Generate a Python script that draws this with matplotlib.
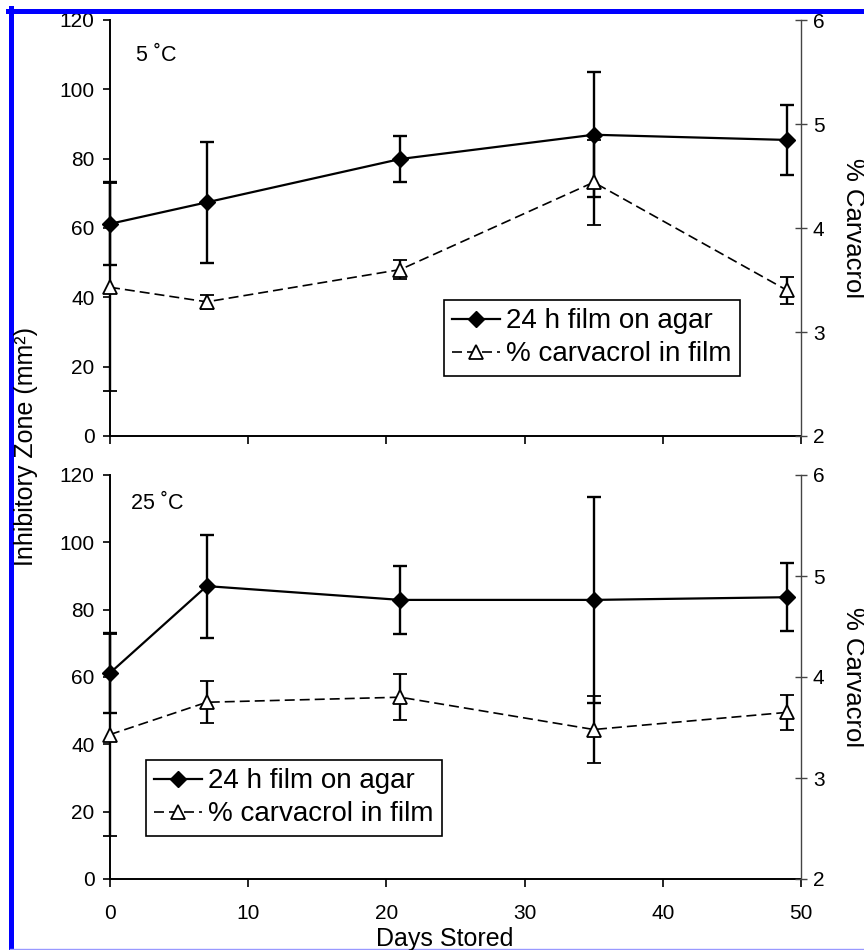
import matplotlib
matplotlib.use("Agg")
import matplotlib.pyplot as plt
from matplotlib.lines import Line2D

plt.rcParams['font.family'] = ['Liberation Sans', 'DejaVu Sans']

# storage days
days = [0, 7, 21, 35, 49]

# 5 C panel
zone_5 = [61.2, 67.4, 79.9, 86.9, 85.4]
zone_5_err = [12.0, 17.5, 6.6, 18.1, 10.1]
carv_5 = [3.43, 3.29, 3.60, 4.44, 3.40]
carv_5_err = [1.0, 0.07, 0.09, 0.41, 0.13]

# 25 C panel
zone_25 = [61.2, 87.0, 82.9, 82.9, 83.7]
zone_25_err = [12.0, 15.3, 10.1, 30.6, 10.1]
carv_25 = [3.43, 3.75, 3.80, 3.48, 3.65]
carv_25_err = [1.0, 0.21, 0.23, 0.33, 0.17]

x_ticks = [0, 10, 20, 30, 40, 50]
zone_ticks = [0, 20, 40, 60, 80, 100, 120]
carv_ticks = [2, 3, 4, 5, 6]

W, H = 864, 950
fig = plt.figure(figsize=(W / 100, H / 100), dpi=100)

def fx(px):
    return px / W

def fy(py):
    return 1 - py / H


def draw_panel(rect, zone, zone_err, carv, carv_err, label, label_pos, leg_anchor, show_xlabels):
    ax = fig.add_axes(rect)
    ax2 = ax.twinx()

    eb1 = ax.errorbar(days, zone, yerr=zone_err, color='black', marker='D', ms=8.5,
                      lw=1.6, elinewidth=1.7, capsize=5, capthick=1.7, zorder=3)
    eb2 = ax2.errorbar(days, carv, yerr=carv_err, color='black', marker='^', ms=9.5,
                       mfc='white', mec='black', mew=1.3, lw=1.2, ls=(0, (6, 3)),
                       elinewidth=1.7, capsize=5, capthick=1.7, zorder=3)
    for eb in (eb1, eb2):
        for child in eb.get_children():
            child.set_clip_on(False)

    ax.set_xlim(0, 50)
    ax.set_ylim(0, 120)
    ax2.set_ylim(2, 6)
    ax.set_xticks(x_ticks)
    ax.set_yticks(zone_ticks)
    ax2.set_yticks(carv_ticks)
    if not show_xlabels:
        ax.set_xticklabels([])

    for a in (ax, ax2):
        a.spines['top'].set_visible(False)
        a.patch.set_visible(False)
    ax.spines['right'].set_visible(False)
    ax2.spines['left'].set_visible(False)
    ax2.spines['bottom'].set_visible(False)
    ax.spines['left'].set_linewidth(1.4)
    ax.spines['bottom'].set_linewidth(1.4)
    ax2.spines['right'].set_color('#444444')
    ax2.spines['right'].set_linewidth(1.0)

    ax.tick_params(axis='y', direction='out', length=5, width=1.2, labelsize=15, pad=6)
    ax.tick_params(axis='x', direction='out', length=6, width=1.2, labelsize=15, pad=12)
    ax2.tick_params(axis='y', direction='inout', length=9, width=1.0, color='#444444',
                    labelsize=15, pad=4)

    ax.text(label_pos[0], label_pos[1], label, transform=ax.transAxes,
            fontsize=15.5, ha='left', va='center')

    leg = fig.legend([eb1[0], eb2[0]], ['24 h film on agar', '% carvacrol in film'],
                     loc='upper left', bbox_to_anchor=leg_anchor, bbox_transform=fig.transFigure,
                     borderaxespad=0, fontsize=20, frameon=True, fancybox=False,
                     edgecolor='black', framealpha=1, handlelength=1.7, handletextpad=0.25,
                     borderpad=0.3, labelspacing=0.25)
    leg.get_frame().set_linewidth(1.2)
    return ax, ax2


top_rect = [fx(110), fy(436), fx(801) - fx(110), (436 - 20) / H]
bot_rect = [fx(110), fy(879), fx(801) - fx(110), (879 - 475) / H]

draw_panel(top_rect, zone_5, zone_5_err, carv_5, carv_5_err, '5 ˚C', (0.038, 0.915),
           (fx(444), fy(300)), False)
draw_panel(bot_rect, zone_25, zone_25_err, carv_25, carv_25_err, '25 ˚C', (0.03, 0.93),
           (fx(146), fy(760)), True)

fig.text(fx(26), fy(447), 'Inhibitory Zone (mm²)', rotation=90, ha='center', va='center',
         fontsize=18)
fig.text(fx(853), fy(228), '% Carvacrol', rotation=270, ha='center', va='center', fontsize=18.5)
fig.text(fx(853), fy(677), '% Carvacrol', rotation=270, ha='center', va='center', fontsize=18.5)
fig.text(fx(445), fy(939), 'Days Stored', ha='center', va='center', fontsize=18)

# blue frame
fig.add_artist(Line2D([fx(8), 1], [fy(10.8), fy(10.8)], color='#0000ff', lw=3.6))
fig.add_artist(Line2D([fx(10.8), fx(10.8)], [0, fy(8)], color='#0000ff', lw=3.6))
fig.add_artist(Line2D([fx(10), 1], [fy(948.5), fy(948.5)], color='#9999ff', lw=1.0))

fig.savefig('out.png', dpi=100)
